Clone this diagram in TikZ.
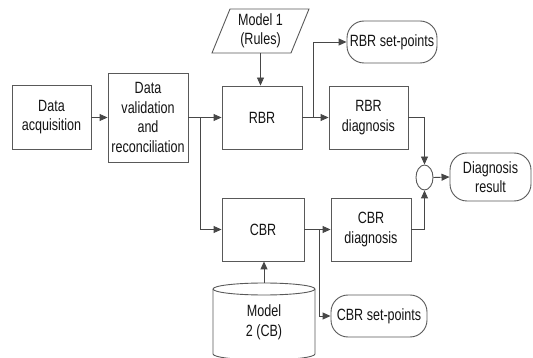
\documentclass[tikz,border=0pt]{standalone}
\usepackage{fontspec}
\setmainfont{Liberation Sans}[FakeStretch=0.77]
\usetikzlibrary{arrows.meta,shapes.geometric}
\begin{document}
\begin{tikzpicture}[x=1pt,y=-1pt,
  every node/.style={font=\fontsize{16.3}{19.5}\selectfont, text=black!92, align=center, inner sep=0pt},
  box/.style={draw=black!65, line width=0.9pt, rectangle},
  pill/.style={box, rounded corners=17pt},
  conn/.style={draw=black!72, line width=0.9pt},
  arr/.style={conn, -{Triangle[length=8pt,width=7pt]}}
]
% canvas
\fill[white] (0,0) rectangle (533,358);
\useasboundingbox (0,0) rectangle (533,358);

% processing blocks
\node[box, minimum width=79pt, minimum height=64pt] (acq) at (51.5,117) {Data\\acquisition};
\node[box, minimum width=80pt, minimum height=89pt] (dv) at (148,117.5) {Data\\validation\\and\\reconciliation};
\node[box, minimum width=80pt, minimum height=63pt] (rbr) at (262,117.5) {RBR};
\node[box, minimum width=79pt, minimum height=63pt] (rbrdiag) at (368.5,117.5) {RBR\\diagnosis};
\node[box, minimum width=82pt, minimum height=63pt] (cbr) at (263,229.5) {CBR};
\node[box, minimum width=80pt, minimum height=63pt] (cbrdiag) at (371,229.5) {CBR\\diagnosis};

% terminals
\node[pill, minimum width=90pt, minimum height=42pt] (rbrsp) at (392,42) {RBR set-points};
\node[pill, minimum width=96pt, minimum height=42pt] (cbrsp) at (379,316) {CBR set-points};
\node[pill, minimum width=81pt, minimum height=48pt] (result) at (490.5,177) {Diagnosis\\result};

% summing junction
\node[draw=black!65, line width=0.9pt, ellipse, minimum width=17pt, minimum height=25pt] (sum) at (424.5,177.5) {};

% rule model (parallelogram)
\draw[box] (212,53) -- (230,9) -- (309,9) -- (291,53) -- cycle;
\node[minimum width=80pt, minimum height=44pt] (m1) at (260.5,31) {Model 1\\(Rules)};

% case base (cylinder)
\draw[box] (213,354) -- (213,289)
  arc[start angle=180, end angle=0, x radius=51pt, y radius=6pt]
  -- (315,354)
  arc[start angle=0, end angle=-180, x radius=51pt, y radius=6pt] -- cycle;
\draw[box] (213,289) arc[start angle=180, end angle=360, x radius=51pt, y radius=6pt];
\node (m2) at (264,322.5) {Model\\2 (CB)};
\coordinate (cyltop) at (264,283);

% branch points
\coordinate (j1) at (200,117.5);
\coordinate (j2) at (313,117.5);
\coordinate (j3) at (319,229.5);

% connectors
\draw[arr] (acq.east |- dv.west) -- (dv.west);
\draw[arr] (dv.east) -- (rbr.west);
\draw[arr] (j1) |- (cbr.west);
\draw[arr] (m1.south |- 0,53) -- (m1.south |- rbr.north);
\draw[arr] (rbr.east) -- (rbrdiag.west);
\draw[arr] (j2) |- (rbrsp.west);
\draw[arr] (cbr.east) -- (cbrdiag.west);
\draw[arr] (j3) |- (cbrsp.west);
\draw[arr] (cyltop) -- (cyltop |- cbr.south);
\draw[arr] (rbrdiag.east) -| (sum.north);
\draw[arr] (cbrdiag.east) -| (sum.south);
\draw[arr] (sum.east) -- (result.west);
\end{tikzpicture}
\end{document}
